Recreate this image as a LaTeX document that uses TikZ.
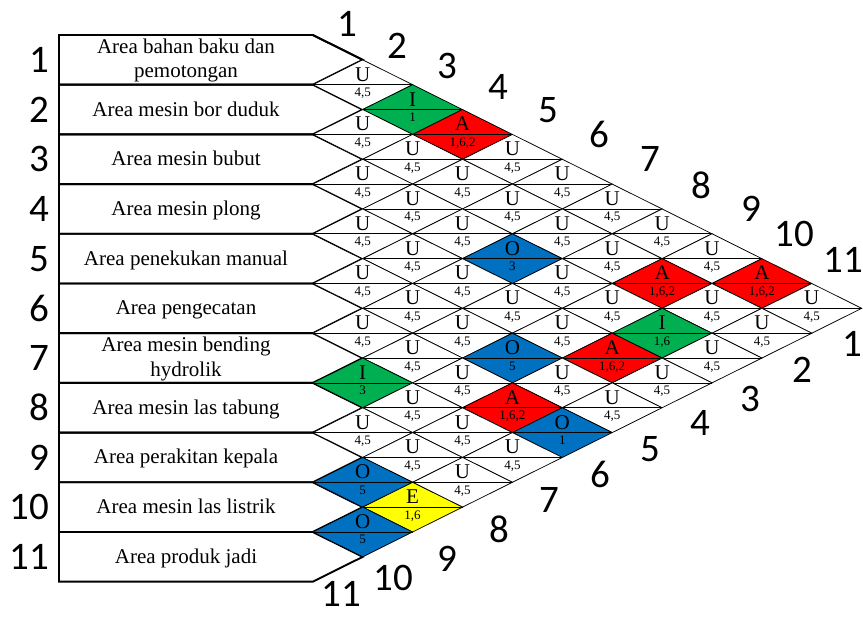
\documentclass[tikz,border=0pt]{standalone}
\usepackage{fontspec}
\setmainfont{Liberation Serif}
\newfontfamily\numfont{Carlito}
\definecolor{cI}{RGB}{0,176,80}
\definecolor{cA}{RGB}{255,0,0}
\definecolor{cO}{RGB}{0,112,192}
\definecolor{cE}{RGB}{255,255,0}
\newcommand\setrel[5]{\expandafter\def\csname rl-#1-#2\endcsname{\def\rcol{#3}\def\rlet{#4}\def\rnum{#5}}}
\setrel{1}{3}{cI}{I}{1}
\setrel{1}{4}{cA}{A}{1,6,2}
\setrel{3}{7}{cO}{O}{3}
\setrel{2}{9}{cA}{A}{1,6,2}
\setrel{1}{10}{cA}{A}{1,6,2}
\setrel{3}{10}{cI}{I}{1,6}
\setrel{4}{10}{cA}{A}{1,6,2}
\setrel{5}{9}{cO}{O}{5}
\setrel{7}{8}{cI}{I}{3}
\setrel{6}{10}{cA}{A}{1,6,2}
\setrel{6}{11}{cO}{O}{1}
\setrel{9}{10}{cO}{O}{5}
\setrel{9}{11}{cE}{E}{1,6}
\setrel{10}{11}{cO}{O}{5}
\begin{document}
\begin{tikzpicture}[x=1pt,y=-1pt,
  gridline/.style={line width=0.75pt},
  boxline/.style={line width=1.9pt, line join=miter},
  letter/.style={font=\fontsize{21}{21}\selectfont, inner sep=0, anchor=base},
  small/.style={font=\fontsize{13}{13}\selectfont, inner sep=0, anchor=base},
  hnum/.style={font=\numfont\fontsize{39}{39}\selectfont, inner sep=0},
  lab/.style={font=\fontsize{21}{24}\selectfont, inner sep=0, anchor=base}]
\useasboundingbox (0,0) rectangle (863,617);
\def\xz{312.8}\def\hw{49.9}\def\hh{24.85}\def\yt{35}\def\yc{59.85}
% label boxes
\foreach \i in {1,...,11}{
  \pgfmathsetmacro\rtop{\yt+2*\hh*(\i-1)}
  \draw[boxline] (59,\rtop) -- (\xz,\rtop) -- (\xz+\hw,\rtop+\hh) -- (\xz,\rtop+2*\hh) -- (59,\rtop+2*\hh) -- cycle;
}
% relation diamonds
\foreach \i in {1,...,10}{
  \pgfmathtruncatemacro\js{\i+1}
  \foreach \j in {\js,...,11}{
    \def\rcol{white}\def\rlet{U}\def\rnum{4,5}
    \ifcsname rl-\i-\j\endcsname \csname rl-\i-\j\endcsname\fi
    \pgfmathsetmacro\cx{\xz+\hw*(\j-\i)}
    \pgfmathsetmacro\cy{\yc+\hh*(\i+\j-2)}
    \filldraw[gridline, fill=\rcol] (\cx-\hw,\cy) -- (\cx,\cy-\hh) -- (\cx+\hw,\cy) -- (\cx,\cy+\hh) -- cycle;
    \draw[gridline] (\cx-\hw,\cy) -- (\cx+\hw,\cy);
    \node[letter] (r\i-\j) at (\cx,\cy-3.5) {\rlet};
    \node[small] (n\i-\j) at (\cx,\cy+12) {\rnum};
  }
}
% outer edges of label boxes redrawn thick
\draw[boxline] (59,\yt) -- (\xz,\yt) -- (\xz+\hw,\yt+\hh);
% row labels
\node[lab] (l1a) at (186,\yc-6.5) {Area bahan baku dan};
\node[lab] (l1b) at (186,\yc+18) {pemotongan};
\node[lab] (l2) at (186,\yc+2*\hh*1+6.5) {Area mesin bor duduk};
\node[lab] (l3) at (186,\yc+2*\hh*2+6.5) {Area mesin bubut};
\node[lab] (l4) at (186,\yc+2*\hh*3+6.5) {Area mesin plong};
\node[lab] (l5) at (186,\yc+2*\hh*4+6.5) {Area penekukan manual};
\node[lab] (l6) at (186,\yc+2*\hh*5+6.5) {Area pengecatan};
\node[lab] (l7a) at (186,\yc+2*\hh*6-6.5) {Area mesin bending};
\node[lab] (l7b) at (186,\yc+2*\hh*6+18) {hydrolik};
\node[lab] (l8) at (186,\yc+2*\hh*7+6.5) {Area mesin las tabung};
\node[lab] (l9) at (186,\yc+2*\hh*8+6.5) {Area perakitan kepala};
\node[lab] (l10) at (186,\yc+2*\hh*9+6.5) {Area mesin las listrik};
\node[lab] (l11) at (186,\yc+2*\hh*10+6.5) {Area produk jadi};
% left numbers
\foreach \i in {1,...,11}{
  \pgfmathsetmacro\ry{\yc+2*\hh*(\i-1)}
  \node[hnum, anchor=east] (ln\i) at (49,\ry) {\i};
}
% top numbers
\foreach \k/\px/\py in {1/347/24,2/397/46,3/447/66,4/498/87,5/548.5/110,6/599.5/134,7/650/159,8/701/185,9/751/208.5,10/794.5/234,11/843/260}{
  \node[hnum] (tn\k) at (\px,\py) {\k};
}
% bottom numbers
\foreach \k/\px/\py in {1/852.6/344,2/802/370,3/750/399,4/700/423,5/650/449,6/600/474,7/549/500,8/499/529,9/447/559,10/393/578,11/341/594}{
  \node[hnum] (bn\k) at (\px,\py) {\k};
}
\end{tikzpicture}
\end{document}
